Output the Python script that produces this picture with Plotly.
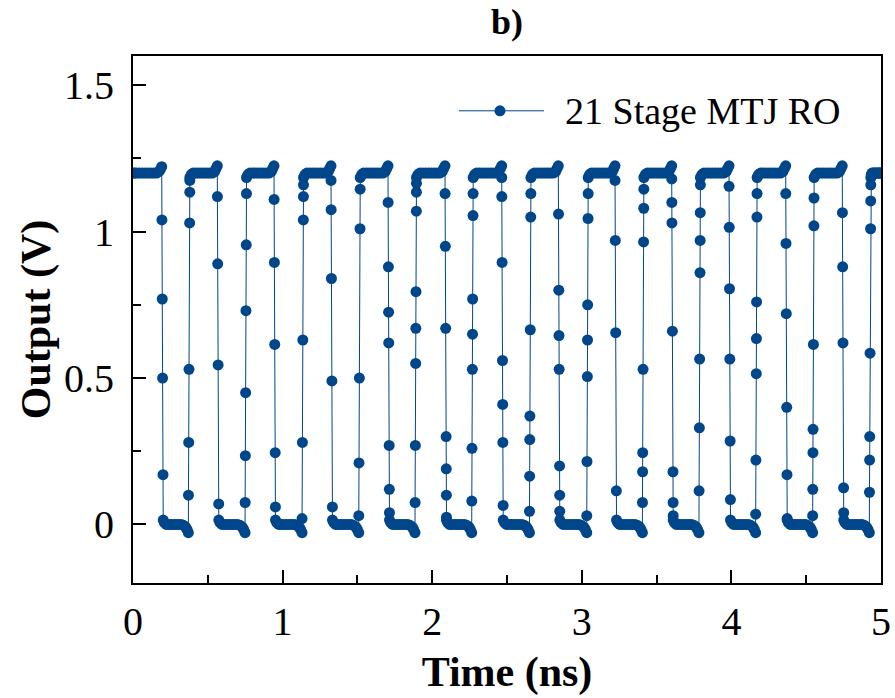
import plotly.graph_objects as go

# Start times (ns) of each output transition of the ring oscillator
FALL_T = [0.192, 0.5635, 0.9425, 1.3235, 1.7045, 2.0856, 2.4646, 2.843, 3.222,
          3.601, 3.984, 4.363, 4.741]
RISE_T = [0.370, 0.749, 1.130, 1.509, 1.885, 2.264, 2.650, 3.033, 3.405,
          3.783, 4.162, 4.543, 4.922]

# Sampled voltages (V) along each falling edge
FALL_V = [
    [1.04, 0.77, 0.50, 0.17],
    [1.12, 0.89, 0.545, 0.07],
    [1.11, 0.895, 0.615, 0.245, 0.06],
    [1.175, 1.075, 0.84, 0.49, 0.06],
    [1.10, 0.88, 0.725, 0.62, 0.27, 0.12, 0.04],
    [1.13, 0.95, 0.67, 0.30, 0.19, 0.10, 0.025],
    [1.185, 1.12, 0.895, 0.56, 0.41, 0.28, 0.065],
    [1.06, 0.80, 0.645, 0.53, 0.20, 0.10, 0.045],
    [1.175, 0.97, 0.655, 0.115],
    [1.18, 1.10, 1.03, 0.66, 0.18, 0.075, 0.03],
    [1.155, 1.015, 0.805, 0.565, 0.285, 0.085],
    [1.13, 0.96, 0.72, 0.40, 0.17, 0.02],
    [1.065, 0.88, 0.62, 0.125, 0.04],
]

# Sampled voltages (V) along each rising edge
RISE_V = [
    [0.10, 0.28, 0.53, 1.03, 1.135, 1.175],
    [0.075, 0.235, 0.45, 0.73, 0.955, 1.13],
    [0.02, 0.28, 0.63, 1.04, 1.12, 1.16],
    [0.03, 0.21, 0.50, 1.01, 1.145],
    [0.075, 0.27, 0.55, 0.67, 0.795, 1.07, 1.135, 1.165],
    [0.08, 0.26, 0.53, 0.65, 0.77, 1.055, 1.13],
    [0.045, 0.165, 0.29, 0.37, 0.665, 1.05, 1.13],
    [0.03, 0.215, 0.505, 0.63, 0.75, 1.045, 1.13],
    [0.075, 0.18, 0.245, 0.53, 0.965, 1.08, 1.145],
    [0.115, 0.33, 0.565, 0.86, 0.97, 1.065, 1.16],
    [0.035, 0.22, 0.515, 0.635, 0.76, 1.05, 1.13],
    [0.03, 0.12, 0.245, 0.325, 0.615, 1.02, 1.115],
    [0.11, 0.22, 0.30, 0.585, 1.01, 1.105, 1.16],
]

# Plateau shapes: relative position within a plateau and the settled voltage
PLATEAU_POS = [0.0, 0.05, 0.12, 0.22, 0.32, 0.42, 0.52, 0.62, 0.72, 0.82, 0.90, 0.95, 1.0]
HIGH_V = [1.185, 1.195, 1.2, 1.2, 1.2, 1.2, 1.2, 1.2, 1.2, 1.2, 1.205, 1.215, 1.225]
FIRST_HIGH_V = [1.2, 1.2, 1.2, 1.2, 1.2, 1.2, 1.2, 1.2, 1.2, 1.2, 1.205, 1.212, 1.222]
LAST_HIGH_V = [1.185, 1.195, 1.2, 1.2, 1.2, 1.2, 1.2, 1.2, 1.2, 1.2, 1.2, 1.2, 1.2]
LOW_V = [0.015, 0.006, 0.0, 0.0, 0.0, 0.0, 0.0, 0.0, 0.0, -0.004, -0.01, -0.018, -0.028]

VDD = 1.2
EDGE = 0.01       # transition duration (ns)
T_END = 5.0

X_TICKS = [0, 1, 2, 3, 4, 5]
Y_TICKS = [0, 0.5, 1, 1.5]
Y_TICK_TEXT = ["0", "0.5", "1", "1.5"]

BLUE = "#00468b"
FONT = "Liberation Serif"

times, volts = [], []


def plateau(t0, t1, shape):
    for p, val in zip(PLATEAU_POS, shape):
        times.append(t0 + p * (t1 - t0))
        volts.append(val)


def edge(t0, vals, falling):
    for val in vals:
        frac = (VDD - val) / VDD if falling else val / VDD
        times.append(t0 + EDGE * frac)
        volts.append(val)


start = 0.0
for k in range(len(FALL_T)):
    plateau(start, FALL_T[k], FIRST_HIGH_V if k == 0 else HIGH_V)
    edge(FALL_T[k], FALL_V[k], True)
    plateau(FALL_T[k] + EDGE, RISE_T[k], LOW_V)
    edge(RISE_T[k], RISE_V[k], False)
    start = RISE_T[k] + EDGE
plateau(start, T_END, LAST_HIGH_V)

fig = go.Figure()
fig.add_trace(go.Scatter(
    x=times, y=volts, mode="lines+markers",
    line=dict(color=BLUE, width=1),
    marker=dict(color=BLUE, size=11),
    name="21 Stage MTJ RO", showlegend=False,
))

axis_common = dict(
    showline=True, linecolor="black", linewidth=2, mirror=True,
    ticks="inside", ticklen=13, tickwidth=1.6, tickcolor="black",
    showgrid=False, zeroline=False, automargin=False,
    tickfont=dict(family=FONT, size=40, color="black"),
)

fig.update_xaxes(
    range=[0, T_END], tickvals=X_TICKS, ticklabelstandoff=2,
    minor=dict(dtick=0.5, ticks="inside", ticklen=8, tickwidth=1.6, tickcolor="black"),
    title=dict(text="Time (ns)", font=dict(family=FONT, size=42, color="black", weight="bold"),
               standoff=14),
    **axis_common,
)
fig.update_yaxes(
    range=[-0.2, 1.6], tickvals=Y_TICKS, ticktext=Y_TICK_TEXT, ticklabelstandoff=9,
    minor=dict(dtick=0.25, ticks="inside", ticklen=8, tickwidth=1.6, tickcolor="black"),
    title=dict(text="Output (V)", font=dict(family=FONT, size=42, color="black", weight="bold"),
               standoff=0),
    **axis_common,
)

# Legend entry: sample line with marker, plus label
LEG_Y = 0.896
fig.add_shape(type="line", xref="paper", yref="paper",
              x0=0.4358, x1=0.5495, y0=LEG_Y, y1=LEG_Y,
              line=dict(color=BLUE, width=1))
fig.add_shape(type="circle", xref="paper", yref="paper",
              xsizemode="pixel", ysizemode="pixel",
              xanchor=0.4906, yanchor=LEG_Y, x0=-5.5, x1=5.5, y0=-5.5, y1=5.5,
              fillcolor=BLUE, line=dict(color=BLUE, width=0))
fig.add_annotation(text="21 Stage MTJ RO", xref="paper", yref="paper",
                   x=0.575, y=LEG_Y, xanchor="left", yanchor="middle",
                   showarrow=False, font=dict(family=FONT, size=38, color="black"))

fig.update_layout(
    width=895, height=698,
    margin=dict(l=133, r=14, t=56, b=115, autoexpand=False),
    paper_bgcolor="white", plot_bgcolor="white",
    title=dict(text="b)", x=0.5, xref="paper", xanchor="center",
               y=0.97, yref="container", yanchor="middle",
               font=dict(family=FONT, size=36, color="black", weight="bold")),
    font=dict(family=FONT, color="black"),
)

fig.write_html("out.html")
